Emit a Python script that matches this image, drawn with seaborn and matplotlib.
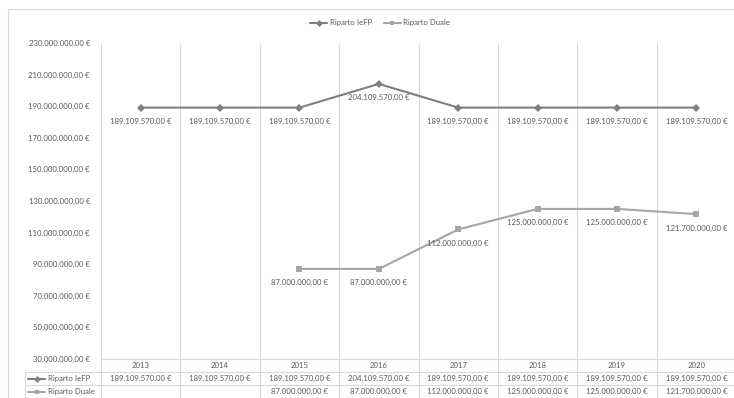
import numpy as np
import pandas as pd
import matplotlib
matplotlib.use("Agg")
import matplotlib.pyplot as plt
import seaborn as sns
from matplotlib.lines import Line2D

# ---- data -------------------------------------------------------------
years = ["2013", "2014", "2015", "2016", "2017", "2018", "2019", "2020"]
riparto_iefp = [189109570, 189109570, 189109570, 204109570,
                189109570, 189109570, 189109570, 189109570]
riparto_duale = [np.nan, np.nan, 87000000, 87000000,
                 112000000, 125000000, 125000000, 121700000]
series_names = ["Riparto IeFP", "Riparto Duale"]
y_ticks = list(range(30_000_000, 230_000_001, 20_000_000))

# ---- style ------------------------------------------------------------
C_IEFP = "#7f7f7f"
C_DUALE = "#a6a6a6"
C_TEXT = "#595959"
C_GRID = "#d9d9d9"
FS = 5.6

sns.set_theme(style="white")
plt.rcParams["font.family"] = ["Lato", "DejaVu Sans"]


def eur(v):
    s = f"{v:,.2f}".replace(",", "X").replace(".", ",").replace("X", ".")
    return s + " €"


df = pd.DataFrame({"idx": range(len(years)),
                   series_names[0]: riparto_iefp,
                   series_names[1]: riparto_duale})
long = df.melt(id_vars="idx", var_name="serie", value_name="valore").dropna()

W, H = 734, 398
fig = plt.figure(figsize=(W / 100, H / 100), dpi=100)
ax = fig.add_axes([101 / W, 39 / H, 635 / W, 316 / H])

sns.lineplot(data=long, x="idx", y="valore", hue="serie", style="serie",
             hue_order=series_names, style_order=series_names,
             palette={series_names[0]: C_IEFP, series_names[1]: C_DUALE},
             markers={series_names[0]: "D", series_names[1]: "s"},
             dashes=False, linewidth=1.5, markersize=4, markeredgewidth=0,
             legend=False, ax=ax)

ax.set_xlim(-0.5, len(years) - 0.5)
ax.set_ylim(30_000_000, 230_000_000)
ax.set_xticks([])
ax.set_xlabel("")
ax.set_ylabel("")
ax.set_yticks(y_ticks)
ax.set_yticklabels([eur(v) for v in y_ticks], fontsize=FS, color=C_TEXT)
ax.tick_params(axis="y", length=0, pad=8)
for sp in ax.spines.values():
    sp.set_visible(False)

# value labels under each point
for vals in (riparto_iefp, riparto_duale):
    for i, v in enumerate(vals):
        if np.isnan(v):
            continue
        ax.annotate(eur(v), (i, v), xytext=(0, -10), textcoords="offset points",
                    ha="center", va="center", fontsize=FS, color=C_TEXT)

# ---- category separators and data table --------------------------------
xt = ax.get_xaxis_transform()
px_per_cat = 635 / len(years)
ax_h = 316
row1 = -13 / ax_h
row2 = -26 / ax_h
bottom = -39 / ax_h
col_left = -0.5 + (25 - 101) / px_per_cat

for b in np.arange(-0.5, len(years) - 0.5, 1):
    ax.plot([b, b], [1.0, bottom], transform=xt, color=C_GRID, lw=0.8,
            clip_on=False, zorder=0)
ax.plot([-0.5, len(years) - 0.5], [0, 0], transform=xt, color=C_GRID,
        lw=0.8, clip_on=False)
for yy in (row1, row2):
    ax.plot([col_left, len(years) - 0.5], [yy, yy], transform=xt,
            color=C_GRID, lw=0.8, clip_on=False)
ax.plot([col_left, col_left], [row1, bottom], transform=xt, color=C_GRID,
        lw=0.8, clip_on=False)

for i, yr in enumerate(years):
    ax.text(i, -7 / ax_h, yr, transform=xt, ha="center", va="center",
            fontsize=FS, color=C_TEXT)
    for yy, vals in ((-19.5 / ax_h, riparto_iefp), (-32.5 / ax_h, riparto_duale)):
        v = vals[i]
        if not np.isnan(v):
            ax.text(i, yy, eur(v), transform=xt, ha="center", va="center",
                    fontsize=FS, color=C_TEXT)

key_x0 = -0.5 + (28 - 101) / px_per_cat
key_x1 = -0.5 + (45 - 101) / px_per_cat
lab_x = -0.5 + (48 - 101) / px_per_cat
for yy, name, col, mk in ((-19.5 / ax_h, series_names[0], C_IEFP, "D"),
                          (-32.5 / ax_h, series_names[1], C_DUALE, "s")):
    ax.plot([key_x0, key_x1], [yy, yy], transform=xt, color=col, lw=1.5,
            clip_on=False)
    ax.plot([(key_x0 + key_x1) / 2], [yy], transform=xt, color=col, marker=mk,
            markersize=3.5, markeredgewidth=0, clip_on=False)
    ax.text(lab_x, yy, name, transform=xt, ha="left", va="center",
            fontsize=FS, color=C_TEXT)

# ---- legend -------------------------------------------------------------
handles = [Line2D([], [], color=C_IEFP, lw=1.5, marker="D", markersize=3.5,
                  markeredgewidth=0),
           Line2D([], [], color=C_DUALE, lw=1.5, marker="s", markersize=3.5,
                  markeredgewidth=0)]
fig.legend(handles, series_names, loc="center", ncol=2, frameon=False,
           bbox_to_anchor=(380 / W, 1 - 23 / H), fontsize=FS,
           labelcolor=C_TEXT, handlelength=2.2, handletextpad=0.3,
           columnspacing=1.5)

# ---- chart area border --------------------------------------------------
fig.add_artist(Line2D([8 / W, 1], [1 - 9 / H, 1 - 9 / H],
                      transform=fig.transFigure, color=C_GRID, lw=0.8))
fig.add_artist(Line2D([8 / W, 8 / W], [0, 1 - 9 / H],
                      transform=fig.transFigure, color=C_GRID, lw=0.8))

fig.savefig("out.png", dpi=100)
